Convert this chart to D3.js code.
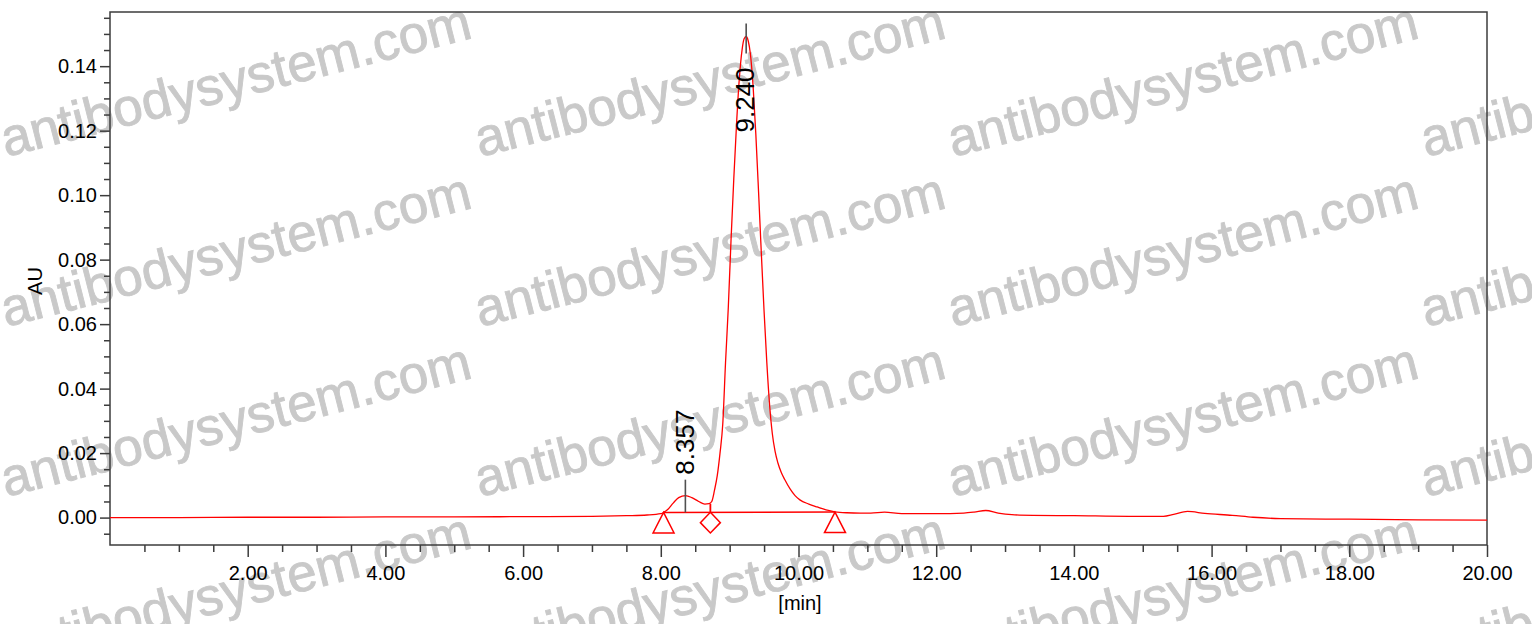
<!DOCTYPE html>
<html><head><meta charset="utf-8">
<script src="https://cdn.jsdelivr.net/npm/d3@7/dist/d3.min.js"></script>
<style>body{margin:0;background:#fff;overflow:hidden} svg{display:block}</style>
</head><body><svg id="c" width="1532" height="624"></svg>
<script>
// ---- data ----
const times = [0.00,1.00,2.00,3.00,4.00,5.00,6.00,7.00,7.50,7.80,8.00,8.04,8.10,8.18,8.26,8.36,8.45,8.55,8.64,8.70,8.74,8.78,8.82,8.86,8.90,8.94,8.98,9.02,9.06,9.10,9.14,9.18,9.21,9.24,9.27,9.30,9.34,9.38,9.42,9.46,9.50,9.54,9.58,9.62,9.66,9.70,9.75,9.80,9.88,9.95,10.02,10.15,10.27,10.40,10.53,10.70,10.90,11.05,11.25,11.50,12.00,12.40,12.55,12.72,12.90,13.10,13.40,14.00,14.80,15.30,15.45,15.65,15.90,16.30,16.60,17.00,18.00,19.00,20.00];
const absorbance = [0.0000,0.0000,0.0001,0.0001,0.0002,0.0002,0.0003,0.0004,0.0006,0.0008,0.0012,0.0016,0.0025,0.0045,0.0062,0.0068,0.0062,0.0050,0.0042,0.0043,0.0050,0.0085,0.0130,0.0200,0.0290,0.0480,0.0650,0.0860,0.1050,0.1220,0.1360,0.1450,0.1485,0.1492,0.1478,0.1440,0.1340,0.1190,0.1010,0.0820,0.0640,0.0480,0.0350,0.0260,0.0205,0.0170,0.0140,0.0118,0.0088,0.0068,0.0055,0.0042,0.0033,0.0024,0.0018,0.0015,0.0014,0.0014,0.0017,0.0012,0.0012,0.0014,0.0017,0.0022,0.0014,0.0009,0.0007,0.0006,0.0004,0.0004,0.0010,0.0019,0.0013,0.0007,0.0001,-0.0003,-0.0005,-0.0007,-0.0008];
const xMajorTicks = [2,4,6,8,10,12,14,16,18,20];
const yMajorTicks = [0,0.02,0.04,0.06,0.08,0.10,0.12,0.14];
const peakTimes = [8.357, 9.240];
const peakHeights = [0.0068, 0.1492];
const peakLabels = ["8.357", "9.240"];
const baselineTimes = [8.04, 10.53];
const baselineValues = [0.0016, 0.0017];
const dropTime = 8.72;
const dropTop = 0.0043;
const markerTimes = [8.04, 8.72, 10.53];
const markerKinds = ["triangle", "diamond", "triangle"];
const xTitle = "[min]";
const yTitle = "AU";
const watermarkText = "antibodysystem.com";

// ---- drawing ----
const L = 110, R = 1487, T = 12, B = 545;
const svg = d3.select("#c");
const FONT = "'Liberation Sans', Arial, sans-serif";

// watermark
const wm = svg.append("g");
const wmCols = [6, 480, 953, 1426], wmRows = [157, 327, 497, 667];
wmRows.forEach(ry => wmCols.forEach(cx => {
  wm.append("text").attr("transform", `translate(${cx},${ry}) rotate(-14.3)`)
    .attr("font-family", FONT).attr("font-size", 53).attr("fill", "#c9c9c9")
    .attr("stroke", "#c9c9c9").attr("stroke-width", 0.9)
    .text(watermarkText);
}));

const x = d3.scaleLinear().domain([0, 20]).range([L, R]);
const y = d3.scaleLinear().domain([-0.0085, 0.1568]).range([B, T]);

// minor tick values
const xMinor = d3.range(1, 40).map(i => i * 0.5).filter(v => Math.abs(v / 2 - Math.round(v / 2)) > 1e-6);
const yMinor = d3.range(-1, 32).map(i => +(i * 0.005).toFixed(3)).filter(v => Math.abs(v / 0.02 - Math.round(v / 0.02)) > 1e-6);

const axisColor = "#3c3c3c";
function styleAxis(g) {
  g.select(".domain").remove();
  g.selectAll("line").attr("stroke", axisColor).attr("stroke-width", 1.5);
  g.selectAll("text").attr("font-family", FONT).attr("font-size", 20).attr("fill", "#000");
}
svg.append("g").attr("transform", `translate(0,${B})`)
  .call(d3.axisBottom(x).tickValues(xMinor).tickSize(7).tickFormat(""))
  .call(styleAxis);
svg.append("g").attr("transform", `translate(0,${B})`)
  .call(d3.axisBottom(x).tickValues(xMajorTicks).tickSize(12).tickPadding(9).tickFormat(d3.format(".2f")))
  .call(styleAxis);
svg.append("g").attr("transform", `translate(${L},0)`)
  .call(d3.axisLeft(y).tickValues(yMinor).tickSize(6).tickFormat(""))
  .call(styleAxis);
svg.append("g").attr("transform", `translate(${L},0)`)
  .call(d3.axisLeft(y).tickValues(yMajorTicks).tickSize(10).tickPadding(3).tickFormat(d3.format(".2f")))
  .call(styleAxis);

// frame
svg.append("rect").attr("x", L).attr("y", T).attr("width", R - L).attr("height", B - T)
  .attr("fill", "none").attr("stroke", axisColor).attr("stroke-width", 1.5);

// titles
svg.append("text").attr("x", 800).attr("y", 610).attr("text-anchor", "middle")
  .attr("font-family", FONT).attr("font-size", 20).text(xTitle);
svg.append("text").attr("transform", `translate(42,281) rotate(-90)`).attr("text-anchor", "middle")
  .attr("font-family", FONT).attr("font-size", 20).text(yTitle);

// chromatogram
const pts = times.map((t, i) => [t, absorbance[i]]);
const red = "#ff0000";
const plot = svg.append("g");
plot.append("path").datum(pts)
  .attr("d", d3.line().x(d => x(d[0])).y(d => y(d[1])).curve(d3.curveMonotoneX))
  .attr("fill", "none").attr("stroke", red).attr("stroke-width", 1.3);

// integration baseline and drop line
plot.append("line").attr("x1", x(baselineTimes[0])).attr("y1", y(baselineValues[0]))
  .attr("x2", x(baselineTimes[1])).attr("y2", y(baselineValues[1]))
  .attr("stroke", red).attr("stroke-width", 1.5);
const baseAt = t => baselineValues[0] + (t - baselineTimes[0]) / (baselineTimes[1] - baselineTimes[0]) * (baselineValues[1] - baselineValues[0]);
plot.append("line").attr("x1", x(dropTime)).attr("x2", x(dropTime))
  .attr("y1", y(dropTop)).attr("y2", y(baseAt(dropTime)))
  .attr("stroke", red).attr("stroke-width", 1.8);

// markers
markerTimes.forEach((t, i) => {
  const cx = x(t), cy = y(baseAt(t));
  let p;
  if (markerKinds[i] === "triangle") p = `M${cx},${cy} L${cx + 10.5},${cy + 20.5} L${cx - 10.5},${cy + 20.5} Z`;
  else p = `M${cx},${cy} L${cx + 10},${cy + 10.3} L${cx},${cy + 20.6} L${cx - 10},${cy + 10.3} Z`;
  plot.append("path").attr("d", p).attr("fill", "none").attr("stroke", red).attr("stroke-width", 1.5);
});

// peak labels
peakTimes.forEach((t, i) => {
  const px = x(t), py = y(peakHeights[i]);
  const g = svg.append("g");
  if (i === 0) {
    g.append("line").attr("x1", px).attr("x2", px).attr("y1", y(baseAt(t))).attr("y2", py - 16)
      .attr("stroke", "#505050").attr("stroke-width", 1.6);
    g.append("text").attr("transform", `translate(${px + 9},${py - 21}) rotate(-90)`)
      .attr("font-family", FONT).attr("font-size", 26).attr("fill", "#000").text(peakLabels[i]);
  } else {
    g.append("line").attr("x1", px).attr("x2", px).attr("y1", py - 13).attr("y2", py + 17)
      .attr("stroke", "#505050").attr("stroke-width", 1.6);
    g.append("text").attr("transform", `translate(${px + 8},${py + 96}) rotate(-90)`)
      .attr("font-family", FONT).attr("font-size", 26).attr("fill", "#000").text(peakLabels[i]);
  }
});
</script>
</body></html>
